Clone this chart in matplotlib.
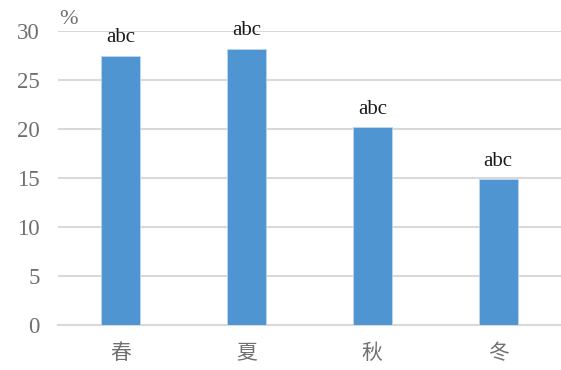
import matplotlib
matplotlib.use("Agg")
import matplotlib.pyplot as plt

plt.rcParams['font.family'] = ['Liberation Serif', 'Noto Sans CJK SC', 'DejaVu Sans']

categories = ['春', '夏', '秋', '冬']
values = [27.5, 28.2, 20.2, 14.9]
bar_labels = ['abc', 'abc', 'abc', 'abc']
yticks = [0, 5, 10, 15, 20, 25, 30]

fig = plt.figure(figsize=(5.61, 3.70), dpi=100)
ax = fig.add_axes([58/561, 1-325/370, (561-58)/561, (325-31)/370])

x = range(len(categories))
bars = ax.bar(x, values, width=0.31, color='#4E95D1', edgecolor='#BDD7EE', linewidth=0.6, zorder=3)
for b, lab in zip(bars, bar_labels):
    ax.annotate(lab, (b.get_x() + b.get_width()/2, b.get_height()), xytext=(0, 6),
                textcoords='offset points', ha='center', va='bottom', fontsize=15, color='#1a1a1a')

ax.set_xlim(-0.5, len(categories) - 0.5)
ax.set_ylim(0, 30)
ax.set_yticks(yticks)
ax.set_yticklabels([str(t) for t in yticks])
ax.set_xticks(list(x))
ax.set_xticklabels(categories, family=['Noto Sans CJK SC'], fontweight='light')
ax.yaxis.grid(True, color='#D9D9D9', linewidth=1.5, zorder=0)
ax.set_axisbelow(True)
for s in ['top', 'right', 'left']:
    ax.spines[s].set_visible(False)
ax.spines['bottom'].set_color('#D9D9D9')
ax.spines['bottom'].set_linewidth(1.5)
ax.tick_params(axis='y', length=0, pad=13, labelsize=16.5, labelcolor='#6F6F6F')
ax.tick_params(axis='x', length=0, pad=12, labelsize=15, labelcolor='#707070')

fig.text(59/561, 1-24/370, '%', fontsize=16, color='#6F6F6F', ha='left', va='baseline')

fig.savefig('out.png', dpi=100)
